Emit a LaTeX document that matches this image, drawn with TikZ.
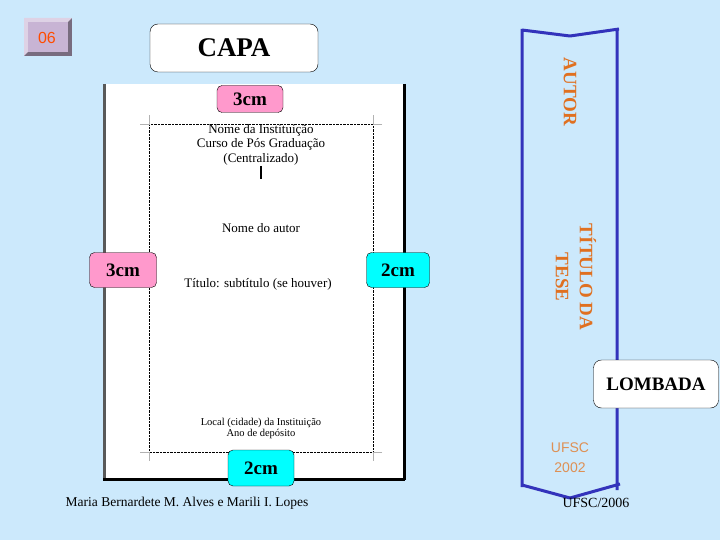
\documentclass[tikz,border=0pt]{standalone}
\usepackage{fontspec}
\setmainfont{Liberation Serif}
\newfontfamily\sansf{Liberation Sans}
\definecolor{bg}{HTML}{CCE9FC}
\definecolor{pinkb}{HTML}{FF99CC}
\definecolor{cyanb}{HTML}{00FFFF}
\definecolor{spine}{HTML}{3333BB}
\definecolor{orng}{HTML}{E07020}
\definecolor{lil}{HTML}{C8B4D4}
\begin{document}
\begin{tikzpicture}[x=1pt,y=-1pt,
  tag/.style={draw=black,rounded corners=5pt,font=\bfseries\fontsize{19}{19}\selectfont,inner sep=0pt},
  txt/.style={font=\fontsize{13}{14}\selectfont,inner sep=0pt},
  small/.style={font=\fontsize{10.5}{11}\selectfont,inner sep=0pt}]
\fill[bg] (0,0) rectangle (720,540);
\useasboundingbox (0,0) rectangle (720,540);
% 06 button
\fill[lil!60!black] (24,18) rectangle (72,56);
\fill[lil!60!white] (24,18) -- (72,18) -- (68,22) -- (28,22) -- (28,52) -- (24,56) -- cycle;
\fill[lil] (28,22) rectangle (68,52);
\node[text=orange!60!red,font=\sansf\fontsize{16}{16}\selectfont] (n06) at (47,38) {06};
% CAPA
\node[tag,fill=white,minimum width=168pt,minimum height=48pt,rounded corners=8pt,font=\bfseries\fontsize{27}{27}\selectfont] (capa) at (234,48) {CAPA};
% page
\fill[white] (103,84) rectangle (405,480);
\draw[gray!70!black,line width=3pt] (104,84) -- (104,480);
\draw[black,line width=3pt] (404,84) -- (404,480) (103,479) -- (405,479);
\draw[densely dotted] (149,124) rectangle (373,452);
\draw[gray!60] (140,124) -- (149,124) -- (149,115) (382,124) -- (373,124) -- (373,115)
  (140,452) -- (149,452) -- (149,461) (382,452) -- (373,452) -- (373,461);
\node[txt] (inst) at (261,130) {Nome da Instituição};
\node[txt] (curso) at (261,144) {Curso de Pós Graduação};
\node[txt] (cent) at (261,159) {(Centralizado)};
\draw[line width=1.5pt] (261,166) -- (261,179);
\node[txt] (autor) at (261,228) {Nome do autor};
\node[txt] (tit) at (258,284) {Título: subtítulo (se houver)};
\node[small] (local) at (261,423) {Local (cidade) da Instituição};
\node[small] (ano) at (261,434) {Ano de depósito};
\node[tag,fill=pinkb,minimum width=66pt,minimum height=27pt] (t3) at (250,99) {3cm};
\node[tag,fill=pinkb,minimum width=67pt,minimum height=35pt] (l3) at (123,270) {3cm};
\node[tag,fill=cyanb,minimum width=63pt,minimum height=35pt] (r2) at (398,270) {2cm};
\node[tag,fill=cyanb,minimum width=66pt,minimum height=36pt] (b2) at (261,468) {2cm};
\node[txt,font=\fontsize{13.5}{14}\selectfont] (auth) at (187,503) {Maria Bernardete M. Alves e Marili I. Lopes};
% spine
\draw[spine,line width=3pt,line join=round] (522,30) -- (570,36) -- (619,29) (617,30) -- (617,490)
  (522,29) -- (522,487) (522,485) -- (570,498) -- (620,484);
\node[rotate=-90,text=orng,font=\bfseries\fontsize{19}{19}\selectfont] (sa) at (570,92) {AUTOR};
\node[rotate=-90,text=orng,align=center,font=\bfseries\fontsize{19}{24}\selectfont] (st) at (576,277) {TÍTULO DA\\TESE};
\node[text=orng!70!brown!80!white,align=center,font=\sansf\fontsize{14}{20}\selectfont] (u02) at (570,458) {UFSC\\2002};
\node[font=\fontsize{14}{14}\selectfont] (u06) at (596,503) {UFSC/2006};
\node[tag,fill=white,minimum width=125pt,minimum height=48pt,rounded corners=8pt] (lom) at (656,384) {LOMBADA};
\end{tikzpicture}
\end{document}
